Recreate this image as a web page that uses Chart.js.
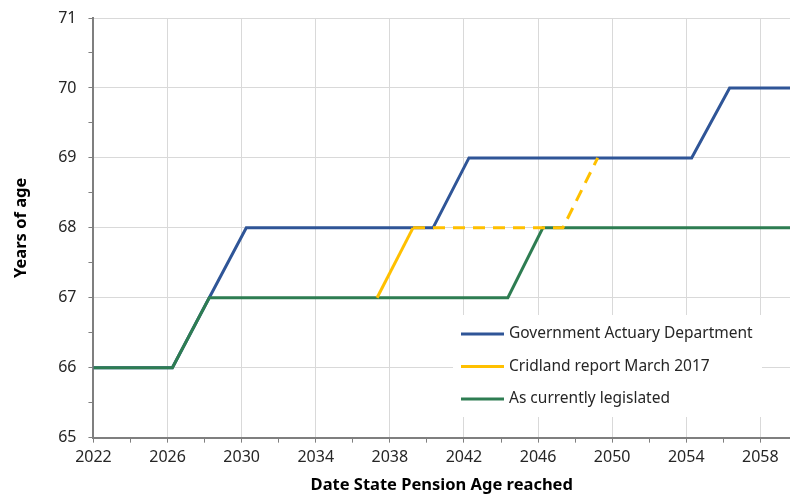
<!DOCTYPE html>
<html>
<head>
<meta charset="utf-8">
<script src="https://cdn.jsdelivr.net/npm/chart.js@4"></script>
<style>
  body { margin: 0; background: #fff; }
  #wrap { width: 790px; height: 494px; }
</style>
</head>
<body>
<div id="wrap"><canvas id="spaChart"></canvas></div>
<script>
  const seriesNames = ["Government Actuary Department", "Cridland report March 2017", "As currently legislated"];
  const seriesColors = ["#2f5597", "#ffc000", "#2e7d52"];

  const gadYears = [2022, 2026.26, 2028.25, 2030.25, 2040.33, 2042.27, 2054.29, 2056.34, 2059.6];
  const gadAge = [66, 66, 67, 68, 68, 69, 69, 70, 70];

  const cridYears = [2037.31, 2039.25, 2047.34, 2049.22];
  const cridAge = [67, 68, 68, 69];

  const legYears = [2022, 2026.26, 2028.25, 2044.37, 2046.26, 2059.6];
  const legAge = [66, 66, 67, 67, 68, 68];

  const xMin = 2022, xMax = 2059.6;
  const yMin = 65, yMax = 71;

  function pts(xs, ys) {
    return xs.map((x, i) => ({ x: x, y: ys[i] }));
  }

  const font = "'Noto Sans', 'Open Sans', sans-serif";

  const boxLegend = {
    id: "boxLegend",
    afterDraw(chart) {
      const c = chart.ctx;
      c.save();
      c.fillStyle = "#fff";
      c.fillRect(453, 315, 309, 102);
      c.font = "15.5px " + font;
      c.textBaseline = "middle";
      seriesNames.forEach((name, i) => {
        const y = 334 + i * 32.5;
        c.strokeStyle = seriesColors[i];
        c.lineWidth = 3;
        c.beginPath();
        c.moveTo(461, y);
        c.lineTo(504, y);
        c.stroke();
        c.fillStyle = "#262626";
        c.fillText(name, 509, y);
      });
      c.restore();
    }
  };

  new Chart(document.getElementById("spaChart"), {
    type: "scatter",
    data: {
      datasets: [
        {
          label: seriesNames[0],
          data: pts(gadYears, gadAge),
          borderColor: seriesColors[0],
          order: 3,
        },
        {
          label: seriesNames[1],
          data: pts(cridYears, cridAge),
          borderColor: seriesColors[1],
          order: 1,
          segment: {
            borderDash: (ctx) => (ctx.p0DataIndex >= 1 ? [12, 8] : undefined),
          },
        },
        {
          label: seriesNames[2],
          data: pts(legYears, legAge),
          borderColor: seriesColors[2],
          order: 2,
        },
      ],
    },
    options: {
      responsive: true,
      maintainAspectRatio: false,
      animation: false,
      showLine: true,
      elements: {
        point: { radius: 0 },
        line: { borderWidth: 3, tension: 0 },
      },
      layout: { padding: { top: 0, right: 0, left: 12, bottom: 0 } },
      plugins: {
        legend: { display: false },
        tooltip: { enabled: false },
      },
      scales: {
        x: {
          type: "linear",
          min: xMin,
          max: xMax,
          ticks: {
            stepSize: 2,
            includeBounds: false,
            autoSkip: false,
            maxRotation: 0,
            color: "#262626",
            font: { family: font, size: 16 },
            padding: 5,
            callback: (v) => ((v - 2022) % 4 === 0 ? String(v) : ""),
          },
          grid: {
            color: (ctx) => (ctx.tick && (ctx.tick.value - 2022) % 4 === 0 ? "#d9d9d9" : "rgba(0,0,0,0)"),
            tickColor: "#7f7f7f",
            tickLength: 5,
            drawOnChartArea: true,
          },
          border: { color: "#7f7f7f", width: 2 },
          title: {
            display: true,
            text: "Date State Pension Age reached",
            color: "#000",
            font: { family: font, size: 16.5, weight: "bold", lineHeight: 1.1 },
            padding: { top: 4, bottom: 0 },
          },
        },
        y: {
          min: yMin,
          max: yMax,
          ticks: {
            stepSize: 0.5,
            autoSkip: false,
            color: "#262626",
            font: { family: font, size: 16, lineHeight: 0.75 },
            padding: 12,
            callback: (v) => (Number.isInteger(v) ? String(v) : ""),
          },
          grid: {
            color: (ctx) => (ctx.tick && Number.isInteger(ctx.tick.value) ? "#d9d9d9" : "rgba(0,0,0,0)"),
            tickColor: "#7f7f7f",
            tickLength: 5,
          },
          border: { color: "#7f7f7f", width: 2 },
          title: {
            display: true,
            text: "Years of age",
            color: "#000",
            font: { family: font, size: 16.5, weight: "bold", lineHeight: 1.1 },
            padding: { top: 0, bottom: 16 },
          },
        },
      },
    },
    plugins: [boxLegend],
  });
</script>
</body>
</html>
